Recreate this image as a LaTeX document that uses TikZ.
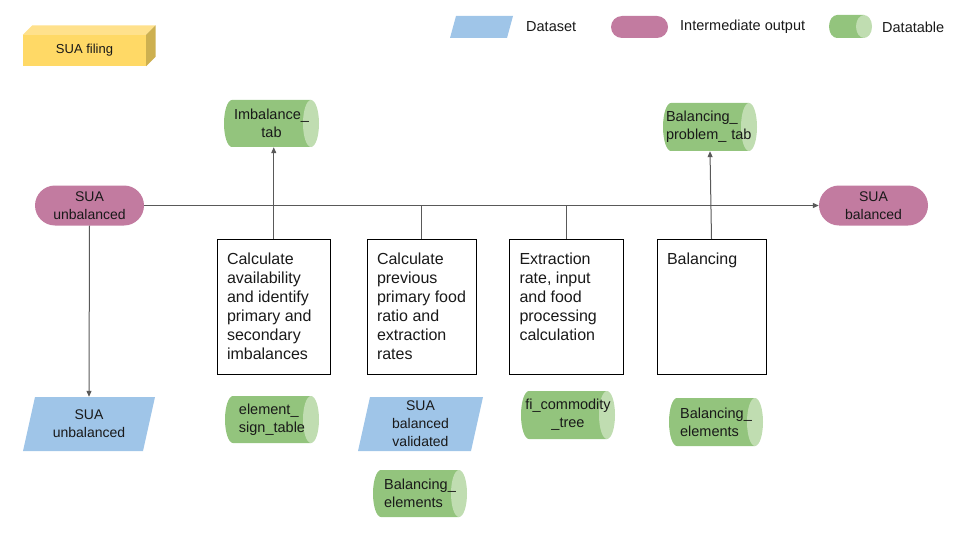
\documentclass[tikz,border=0pt]{standalone}
\usepackage{fontspec}
\setmainfont{Liberation Sans}
\usetikzlibrary{arrows.meta,calc}
\definecolor{dsblue}{HTML}{9FC5E8}
\definecolor{iopink}{HTML}{C27BA0}
\definecolor{dtgreen}{HTML}{93C47D}
\definecolor{dtlight}{HTML}{C0DDB1}
\definecolor{fyel}{HTML}{FFD966}
\definecolor{fyeltop}{HTML}{FFE18C}
\definecolor{fyelside}{HTML}{CDB050}
\definecolor{conn}{HTML}{595959}
\newcommand\boxtxt[2]{\parbox[c][115pt][t]{#1}{\raggedright\rule{0pt}{15pt}#2}}
\tikzset{
  txt/.style={font=\fontsize{14}{18}\selectfont, text=black!90},
  ctxt/.style={font=\fontsize{14.5}{18}\selectfont, text=black!90},
  stad/.style 2 args={txt, shape=rectangle, fill=iopink, rounded corners=#2/2, minimum width=#1, minimum height=#2, inner sep=0pt, align=center},
  cyl/.style n args={3}{ctxt, shape=rectangle, minimum width=#1, minimum height=#2, inner sep=1pt, align=#3,
    path picture={
      \fill[dtgreen] ([xshift=8pt]path picture bounding box.south west) arc[start angle=270, end angle=90, x radius=8pt, y radius=#2/2]
        -- ([xshift=-8pt]path picture bounding box.north east) -- ([xshift=-8pt]path picture bounding box.south east) -- cycle;
      \fill[dtlight] ([xshift=-8pt]path picture bounding box.east) ellipse[x radius=8pt, y radius=#2/2];
    }},
  para/.style n args={3}{txt, shape=rectangle, minimum width=#1, minimum height=#2, inner sep=0pt, align=center,
    path picture={
      \fill[dsblue] (path picture bounding box.south west) -- ([xshift=-#3]path picture bounding box.south east)
        -- (path picture bounding box.north east) -- ([xshift=#3]path picture bounding box.north west) -- cycle;
    }},
  lgtxt/.style={font=\fontsize{14.5}{18}\selectfont, text=black!90, anchor=west, inner sep=0pt},
  stepbox/.style={draw=black, line width=1pt, shape=rectangle, inner xsep=10pt, inner ysep=10pt, anchor=north west,
    font=\fontsize{16}{19}\selectfont, text=black!90},
  link/.style={draw=conn, line width=1pt},
  arr/.style={link, -{Triangle[length=6pt,width=5pt]}},
}
\begin{document}
\begin{tikzpicture}[x=1pt,y=-1pt]
\useasboundingbox (0,0) rectangle (960,540);
% SUA filing 3D box
\node[txt, font=\fontsize{13}{16}\selectfont, fill=fyel, minimum width=123, minimum height=31, inner sep=0pt] (filing) at (84.5,50.5) {SUA filing};
\fill[fyeltop] (filing.north west) -- (filing.north east) -- ++(9.5,-9.5) -- ([shift={(9.5,-9.5)}]filing.north west) -- cycle;
\fill[fyelside] (filing.north east) -- ++(9.5,-9.5) -- ([shift={(9.5,-9.5)}]filing.south east) -- (filing.south east) -- cycle;
% legend
\node[para={63}{22}{6pt}] (lgds) at (481.5,27) {};
\node[lgtxt] (lgdst) at (526,27) {Dataset};
\node[stad={57}{22}] (lgio) at (639.5,27) {};
\node[lgtxt] (lgiot) at (680,27) {Intermediate output};
\node[cyl={43}{23pt}{center}] (lgdt) at (850.5,26.5) {};
\node[lgtxt] (lgdtt) at (882,27) {Datatable};
% intermediate outputs
\node[stad={109}{40}] (suau) at (89.5,205.5) {SUA\\unbalanced};
\node[stad={109}{40}] (suab) at (873.5,205.5) {SUA\\balanced};
% top datatables
\node[cyl={95}{47pt}{center}] (imb) at (271.5,123.5) {Imbalance\_\\tab};
\node[cyl={94}{48pt}{left}, text width=88pt] (bpt) at (710,127) {Balancing\_\\problem\_ tab};
% process boxes
\node[stepbox] (b1) at (216.5,239) {\boxtxt{93.5pt}{Calculate\\availability\\\mbox{and identify}\\\mbox{primary and}\\secondary\\imbalances}};
\node[stepbox] (b2) at (366.5,239) {\boxtxt{89pt}{Calculate\\previous\\\mbox{primary food}\\ratio and\\extraction\\rates}};
\node[stepbox] (b3) at (509,239) {\boxtxt{94pt}{Extraction\\\mbox{rate, input}\\and food\\processing\\calculation}};
\node[stepbox] (b4) at (656.5,239) {\boxtxt{89pt}{Balancing}};
% bottom inputs
\node[para={132}{54}{12pt}] (dsu) at (89,424) {SUA\\unbalanced};
\node[cyl={94}{47pt}{left}] (est) at (272,419.5) {element\_\\sign\_table};
\node[para={125}{54}{12pt}] (sbv) at (420.5,424) {SUA\\balanced\\validated};
\node[cyl={94}{47pt}{left}] (be1) at (420,493.5) {Balancing\_\\elements};
\node[cyl={94}{48pt}{center}] (fct) at (568,415) {fi\_commodity\\\_tree};
\node[cyl={94}{48pt}{left}] (be2) at (716,422) {Balancing\_\\elements};
% connectors
\draw[arr] (suau.east) -- (suab.west);
\draw[arr] (suau.south) -- (dsu.north);
\draw[arr] (b1.north) -- (b1.north |- imb.south);
\draw[arr] (b4.north) -- (bpt.south);
\draw[link] (b2.north) -- (b2.north |- suau.east);
\draw[link] (b3.north) -- (b3.north |- suau.east);
\end{tikzpicture}
\end{document}
